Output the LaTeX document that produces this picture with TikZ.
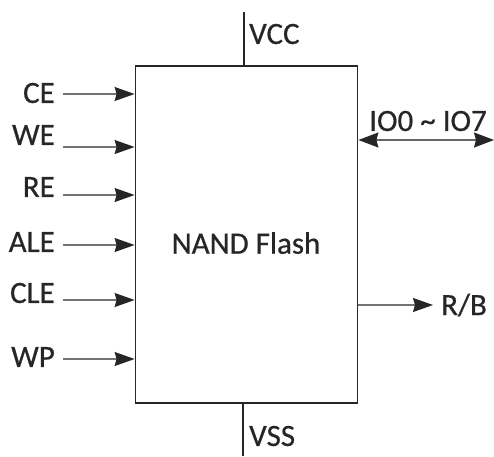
\documentclass[tikz,border=0pt]{standalone}
\usepackage{fontspec}
\setmainfont{Carlito}[FakeBold=0.6]
\usetikzlibrary{arrows.meta}
\tikzset{
  tipR/.tip={Stealth[length=20pt,width=14pt,inset=2pt,color=black!85]},
  tipB/.tip={Stealth[length=20pt,width=15pt,inset=2pt,color=black!85]},
}
\begin{document}
\begin{tikzpicture}[x=1pt,y=-1pt,
  lbl/.style={font=\fontsize{31}{34}\selectfont, text=black!85, inner sep=0pt},
  sig/.style={draw=black!55, line width=1.2pt, -tipR},
  bidir/.style={draw=black!60, line width=1.4pt, tipB-tipB},
  pin/.style={draw=black!85, line width=1.6pt}]
\useasboundingbox (0,0) rectangle (494,456);
\node[draw=black!85, line width=1.8pt, minimum width=222pt, minimum height=337pt, inner sep=0pt] (chip) at (246.5,234.5) {};
\node[lbl] (name) at (246,243) {NAND Flash};
% power pins
\coordinate (vcctop) at (244,12);
\draw[pin] (vcctop) -- (chip.north -| vcctop);
\node[lbl, anchor=west] (vcc) at (249,34) {VCC};
\coordinate (vssbot) at (243,456);
\draw[pin] (chip.south -| vssbot) -- (vssbot);
\node[lbl, anchor=west] (vss) at (249,436) {VSS};
% input signals
\foreach \n/\t/\ya/\yt in {ce/CE/94/93, we/WE/147/135, re/RE/195/187, ale/ALE/245/242, cle/CLE/300/293, wp/WP/359/357}{
  \node[lbl, anchor=east] (\n) at (55,\yt) {\t};
  \coordinate (\n s) at (63,\ya);
  \draw[sig] (\n s) -- (chip.west |- \n s);
}
% IO bus
\coordinate (ioend) at (494,140);
\draw[bidir] (chip.east |- ioend) -- (ioend);
\node[lbl] (io) at (428,121) {IO0 \textasciitilde{} IO7};
% R/B
\coordinate (rbend) at (433,305);
\draw[sig] (chip.east |- rbend) -- (rbend);
\node[lbl, anchor=west] (rb) at (441,305) {R/B};
\end{tikzpicture}
\end{document}
